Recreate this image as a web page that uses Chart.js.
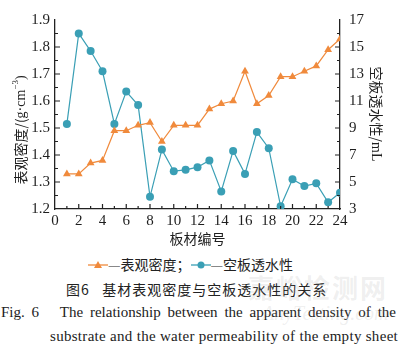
<!DOCTYPE html>
<html>
<head>
<meta charset="utf-8">
<script src="https://cdn.jsdelivr.net/npm/chart.js@4.4.0/dist/chart.umd.min.js"></script>
<style>
  body{margin:0;background:#fff;width:400px;height:346px;position:relative;overflow:hidden;}
  #c{position:absolute;left:0;top:0;}
  .t{position:absolute;white-space:nowrap;color:#222;}
  .cn{font-family:"Noto Sans CJK SC",sans-serif;}
  .en{font-family:"Liberation Serif","DejaVu Serif",serif;}
</style>
</head>
<body>
<canvas id="c" width="400" height="250"></canvas>

<div class="t cn" style="left:88px;top:254px;font-size:14px;line-height:20px;">
  <svg width="20" height="12" style="vertical-align:-1px"><line x1="0" y1="6" x2="20" y2="6" stroke="#f08a3c" stroke-width="1.3"/><polygon points="10,2 14,9 6,9" fill="#f08a3c"/></svg><span style="color:#888">—</span>表观密度；<svg width="20" height="12" style="vertical-align:-1px"><line x1="0" y1="6" x2="20" y2="6" stroke="#3a9fb5" stroke-width="1.3"/><circle cx="10" cy="6" r="3.5" fill="#3a9fb5"/></svg><span style="color:#888">—</span>空板透水性
</div>
<div class="t cn" style="left:66px;top:279px;font-size:14px;line-height:20px;letter-spacing:1px;">图6&nbsp;&nbsp;&nbsp;基材表观密度与空板透水性的关系</div>
<div class="t en" style="left:1px;top:302px;font-size:15px;line-height:20px;width:395px;text-align:justify;text-align-last:justify;">Fig. 6&nbsp;&nbsp;&nbsp;The relationship between the apparent density of the</div>
<div class="t en" style="left:50px;top:326px;font-size:15px;line-height:20px;letter-spacing:0.3px;">substrate and the water permeability of the empty sheet</div>
<div class="t cn" style="left:248px;top:268px;font-size:26px;color:rgba(160,160,160,0.18);font-weight:bold;letter-spacing:2px;">嘉峪检测网</div>
<div class="t en" style="left:262px;top:302px;font-size:20px;color:rgba(160,160,160,0.18);font-style:italic;">AnyTesting.com</div>

<script>
// 板材编号
const boardNo = [1,2,3,4,5,6,7,8,9,10,11,12,13,14,15,16,17,18,19,20,21,22,23,24];
// 表观密度 g/cm3 (left axis)
const density = [1.33,1.33,1.37,1.38,1.49,1.49,1.51,1.52,1.45,1.51,1.51,1.51,1.57,1.59,1.60,1.71,1.59,1.62,1.69,1.69,1.71,1.73,1.79,1.83];
// 空板透水性 mL (right axis)
const perm = [9.3,16.0,14.7,13.2,9.3,11.7,10.7,3.9,7.4,5.8,5.9,6.1,6.6,4.3,7.3,5.6,8.7,7.5,3.2,5.2,4.7,4.9,3.5,4.2];

const orange = '#f08a3c';
const blue = '#3a9fb5';
const axisColor = '#222';
const textColor = '#1e1e1e';
const serif = 'Liberation Serif, Times New Roman, serif';
const cjk = 'Noto Sans CJK SC, sans-serif';

// inward tick marks + axis titles
const extras = {
  id: 'extras',
  afterDraw(chart) {
    const ctx = chart.ctx;
    const a = chart.chartArea;
    const sx = chart.scales.x, sy = chart.scales.y, sy1 = chart.scales.y1;
    ctx.save();
    ctx.strokeStyle = axisColor;
    ctx.lineWidth = 1.2;
    ctx.beginPath();
    for (let v = 1; v < 24; v++) {
      const p = sx.getPixelForValue(v);
      const len = v % 2 === 0 ? 5 : 3;
      ctx.moveTo(p, a.bottom); ctx.lineTo(p, a.bottom - len);
    }
    for (let i = 1; i < 14; i++) {
      const v = 1.2 + i * 0.05;
      const p = sy.getPixelForValue(v);
      const len = i % 2 === 0 ? 5 : 3;
      ctx.moveTo(a.left, p); ctx.lineTo(a.left + len, p);
    }
    for (let v = 4; v < 17; v++) {
      const p = sy1.getPixelForValue(v);
      const len = v % 2 === 1 ? 5 : 3;
      ctx.moveTo(a.right, p); ctx.lineTo(a.right - len, p);
    }
    ctx.stroke();

    ctx.fillStyle = textColor;
    ctx.textBaseline = 'middle';
    // x title
    ctx.font = '14px ' + cjk;
    ctx.textAlign = 'center';
    ctx.fillText('板材编号', (a.left + a.right) / 2, 239);

    // left title
    ctx.save();
    ctx.translate(21, 130);
    ctx.rotate(-Math.PI / 2);
    const p1 = '表观密度/(', p2 = 'g·cm', p3 = '−3', p4 = ')';
    ctx.font = '14px ' + cjk; const w1 = ctx.measureText(p1).width;
    ctx.font = '14px ' + serif; const w2 = ctx.measureText(p2).width; const w4 = ctx.measureText(p4).width;
    ctx.font = '9px ' + serif; const w3 = ctx.measureText(p3).width;
    let x = -(w1 + w2 + w3 + w4) / 2;
    ctx.textAlign = 'left';
    ctx.font = '14px ' + cjk; ctx.fillText(p1, x, 0); x += w1;
    ctx.font = '14px ' + serif; ctx.fillText(p2, x, 0); x += w2;
    ctx.font = '9px ' + serif; ctx.fillText(p3, x, -5); x += w3;
    ctx.font = '14px ' + serif; ctx.fillText(p4, x, 0);
    ctx.restore();

    // right title
    ctx.save();
    ctx.translate(376, 114);
    ctx.rotate(Math.PI / 2);
    ctx.textAlign = 'left';
    ctx.font = '14px ' + cjk; const r1 = '空板透水性/'; const rw1 = ctx.measureText(r1).width;
    ctx.font = '14px ' + serif; const r2 = 'mL'; const rw2 = ctx.measureText(r2).width;
    let rx = -(rw1 + rw2) / 2;
    ctx.font = '14px ' + cjk; ctx.fillText(r1, rx, 0); rx += rw1;
    ctx.font = '14px ' + serif; ctx.fillText(r2, rx, 0);
    ctx.restore();
    ctx.restore();
  }
};

const tickFont = { family: serif, size: 15 };

function draw() {
  new Chart(document.getElementById('c'), {
    type: 'line',
    data: {
      datasets: [
        {
          label: '表观密度',
          data: boardNo.map((n, i) => ({ x: n, y: density[i] })),
          yAxisID: 'y',
          borderColor: orange,
          backgroundColor: orange,
          borderWidth: 1.2,
          pointStyle: 'triangle',
          pointRadius: 4.5,
          pointBorderWidth: 0,
          tension: 0
        },
        {
          label: '空板透水性',
          data: boardNo.map((n, i) => ({ x: n, y: perm[i] })),
          yAxisID: 'y1',
          borderColor: blue,
          backgroundColor: blue,
          borderWidth: 1.2,
          pointStyle: 'circle',
          pointRadius: 4,
          pointBorderWidth: 0,
          tension: 0
        }
      ]
    },
    options: {
      responsive: false,
      animation: false,
      devicePixelRatio: 1,
      layout: { padding: { top: 20, left: 0, right: 0, bottom: 0 } },
      plugins: { legend: { display: false }, tooltip: { enabled: false } },
      scales: {
        x: {
          type: 'linear', min: 0, max: 24,
          ticks: { stepSize: 2, font: tickFont, color: textColor, padding: 3, maxRotation: 0 },
          grid: { drawOnChartArea: false, drawTicks: false },
          border: { color: axisColor, width: 1.3 },
          afterFit(s) { s.height = 41; }
        },
        y: {
          position: 'left', min: 1.2, max: 1.9,
          ticks: { stepSize: 0.1, font: tickFont, color: textColor, padding: 5, callback: v => v.toFixed(1) },
          grid: { drawOnChartArea: false, drawTicks: false },
          border: { color: axisColor, width: 1.3 },
          afterFit(s) { s.width = 55; }
        },
        y1: {
          position: 'right', min: 3, max: 17,
          ticks: { stepSize: 2, font: tickFont, color: textColor, padding: 9 },
          grid: { drawOnChartArea: false, drawTicks: false },
          border: { color: axisColor, width: 1.3 },
          afterFit(s) { s.width = 60; }
        }
      }
    },
    plugins: [extras]
  });
}
if (document.fonts && document.fonts.ready) document.fonts.ready.then(draw); else draw();
</script>
</body>
</html>
